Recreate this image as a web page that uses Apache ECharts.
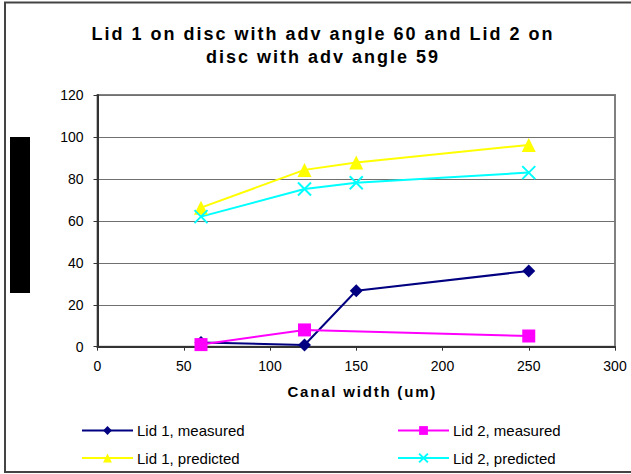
<!DOCTYPE html>
<html><head><meta charset="utf-8">
<script src="https://cdn.jsdelivr.net/npm/echarts@6/dist/echarts.min.js"></script>
<style>html,body{margin:0;padding:0;background:#fff}#c{width:631px;height:474px}</style>
</head><body><div id="c"></div>
<script>
var canalWidth = [60, 120, 150, 250];
var lid1Measured = [2, 0.8, 26.7, 36.1];
var lid2Measured = [1, 8, null, 5.1];
var lid1Predicted = [66.3, 84.3, 87.8, 96.2];
var lid2Predicted = [62, 75.2, 78.2, 83];
var seriesNames = ['Lid 1, measured', 'Lid 2, measured', 'Lid 1, predicted', 'Lid 2, predicted'];
var titleText = 'Lid 1 on disc with adv angle 60 and Lid 2 on\ndisc with adv angle 59';
var xAxisName = 'Canal width (um)';

function pairs(vals) {
  var out = [];
  for (var i = 0; i < canalWidth.length; i++) {
    if (vals[i] !== null) out.push([canalWidth[i], vals[i]]);
  }
  return out;
}
var font = '"Liberation Sans", Arial, sans-serif';
var crossPath = 'path://M0,0 L10,10 M10,0 L0,10';

function mkSeries(name, vals, color, symbol, size, isCross) {
  return {
    name: name, type: 'line', data: pairs(vals),
    symbol: symbol, symbolSize: size,
    lineStyle: { color: color, width: 2 },
    itemStyle: isCross ? { color: 'rgba(0,0,0,0)', borderColor: color, borderWidth: 2 } : { color: color, borderWidth: 0 },
    emphasis: { disabled: true }, animation: false
  };
}
function mkLegend(name, left, top) {
  return {
    data: [name], left: left, top: top, itemWidth: 51, itemHeight: 11, itemGap: 0,
    textStyle: { fontFamily: font, fontSize: 15, color: '#000', padding: [0, 0, 0, -1] }, padding: 0, selectedMode: false
  };
}

var chart = echarts.init(document.getElementById('c'), null, { renderer: 'svg' });
chart.setOption({
  animation: false,
  backgroundColor: '#fff',
  title: {
    text: titleText, left: 318, top: 17, textAlign: 'center',
    textStyle: { fontFamily: font, fontSize: 18, fontWeight: 'bold', color: '#000', lineHeight: 23.5 }
  },
  grid: { left: 97.5, right: 16, top: 95, bottom: 127.3, show: true, borderColor: '#808080', borderWidth: 2, backgroundColor: 'transparent' },
  xAxis: {
    type: 'value', min: 0, max: 300, interval: 50,
    name: xAxisName, nameLocation: 'middle', nameGap: 37,
    nameTextStyle: { fontFamily: font, fontSize: 15, fontWeight: 'bold', color: '#000', padding: [0, 0, 0, 12] },
    axisLine: { lineStyle: { color: '#333', width: 2 } },
    axisTick: { show: true, inside: false, length: 4, lineStyle: { color: '#333', width: 1 } },
    axisLabel: { fontFamily: font, fontSize: 14, color: '#000', margin: 12 },
    splitLine: { show: false }
  },
  yAxis: {
    type: 'value', min: 0, max: 120, interval: 20,
    axisLine: { show: true, lineStyle: { color: '#333', width: 2 } },
    axisTick: { show: true, inside: false, length: 4, lineStyle: { color: '#333', width: 1 } },
    axisLabel: { fontFamily: font, fontSize: 14, color: '#000', margin: 14 },
    splitLine: { show: true, lineStyle: { color: '#707070', width: 1 } }
  },
  legend: [
    mkLegend(seriesNames[0], 81, 423),
    mkLegend(seriesNames[1], 397, 423),
    mkLegend(seriesNames[2], 81, 450.5),
    mkLegend(seriesNames[3], 397, 450.5)
  ],
  series: [
    mkSeries(seriesNames[0], lid1Measured, '#000080', 'diamond', 13, false),
    mkSeries(seriesNames[1], lid2Measured, '#FF00FF', 'rect', 13, false),
    mkSeries(seriesNames[2], lid1Predicted, '#FFFF00', 'triangle', 14, false),
    mkSeries(seriesNames[3], lid2Predicted, '#00FFFF', crossPath, 13, true)
  ],
  graphic: [
    { type: 'rect', shape: { x: 5, y: 2.5, width: 700, height: 469.5 }, style: { fill: 'none', stroke: '#444', lineWidth: 2 }, silent: true, z: -1 },
    { type: 'rect', shape: { x: 10, y: 137, width: 20, height: 156 }, style: { fill: '#000' }, silent: true }
  ]
});

function spaceText() {
  var texts = document.querySelectorAll('#c text');
  for (var i = 0; i < texts.length; i++) {
    var t = texts[i], s = t.textContent;
    if (s.indexOf('disc with') >= 0 || s.indexOf('Lid 2 on') >= 0) t.style.letterSpacing = '2px';
    else if (s === xAxisName) t.style.letterSpacing = '1.8px';
  }
}
spaceText();
chart.on('finished', spaceText);
setTimeout(spaceText, 50);
</script></body></html>
